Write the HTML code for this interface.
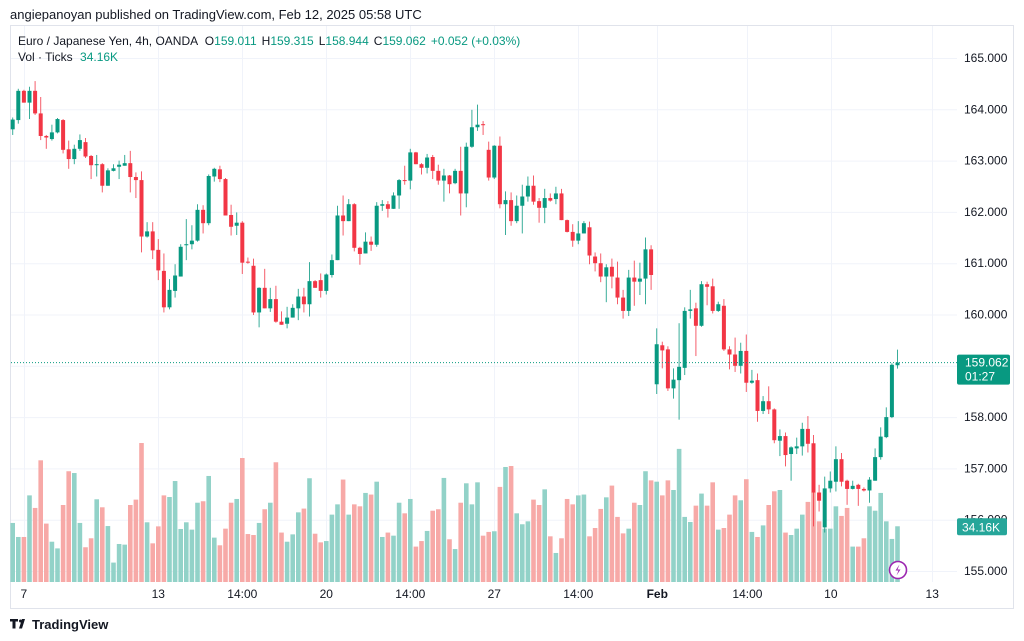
<!DOCTYPE html>
<html><head><meta charset="utf-8">
<style>
html,body{margin:0;padding:0;background:#fff;width:1024px;height:641px;overflow:hidden;font-family:"Liberation Sans",sans-serif;}
svg{display:block}
</style></head>
<body>
<svg id="chart" width="1024" height="641" viewBox="0 0 1024 641" xmlns="http://www.w3.org/2000/svg" font-family="Liberation Sans, sans-serif">
<rect x="0" y="0" width="1024" height="641" fill="#ffffff"/>
<text x="10" y="19" font-size="13" fill="#131722">angiepanoyan published on TradingView.com, Feb 12, 2025 05:58 UTC</text>
<rect x="10.5" y="25.5" width="1003" height="583" fill="none" stroke="#e0e3eb"/>
<g id="grid"></g>
<g id="vols"></g>
<g id="candles"></g>
<g id="axes"></g>
<g font-size="12">
<text x="18" y="45" fill="#131722">Euro / Japanese Yen, 4h, OANDA <tspan dx="4">O</tspan><tspan fill="#089981">159.011</tspan><tspan dx="5">H</tspan><tspan fill="#089981">159.315</tspan><tspan dx="5">L</tspan><tspan fill="#089981">158.944</tspan><tspan dx="5">C</tspan><tspan fill="#089981">159.062</tspan><tspan dx="5" fill="#089981">+0.052 (+0.03%)</tspan></text>
<text x="18" y="61" fill="#131722">Vol · Ticks <tspan dx="4" fill="#089981">34.16K</tspan></text>
</g>
<g>
<circle cx="898" cy="570" r="8.5" fill="#fff" stroke="#9c27b0" stroke-width="1.6"/>
<path d="M899.5 564.5 L895.5 570.5 L898.5 570.5 L896.5 575.5 L900.5 569.5 L897.5 569.5 Z" fill="#9c27b0"/>
</g>
<g>
<path d="M10 619 h8 v2.5 h-2.5 v7 h-3 v-7 h-2.5 Z M19 628.5 L22 619 h3 L22 628.5 Z" fill="#131722"/>
<circle cx="20.5" cy="621" r="1.5" fill="#131722"/>
<text x="32" y="629" font-size="13" font-weight="bold" fill="#131722">TradingView</text>
</g>
</svg>
<script>
const opens=[163.61,163.79,164.36,164.13,164.36,163.92,163.48,163.42,163.55,163.79,163.22,163.03,163.23,163.36,163.09,162.92,162.93,162.51,162.80,162.88,162.90,162.95,162.68,162.62,161.52,161.62,161.26,160.85,160.14,160.46,160.74,161.35,161.37,161.44,162.04,161.78,162.69,162.83,162.64,161.94,161.73,161.79,161.03,160.95,160.04,160.52,160.12,160.30,159.86,159.82,159.94,160.12,160.35,160.20,160.65,160.67,160.46,160.77,161.06,161.93,161.82,162.15,161.30,161.19,161.42,161.36,162.12,162.15,162.06,162.32,162.62,162.61,163.16,162.93,162.86,163.07,162.80,162.61,162.71,162.56,162.80,162.36,163.27,163.65,163.71,163.21,162.67,163.29,162.15,162.23,161.82,162.12,162.30,162.51,162.21,162.08,162.27,162.25,162.36,161.84,161.61,161.44,161.58,161.70,161.13,161.00,160.74,160.93,160.72,160.33,160.07,160.72,160.64,160.70,161.27,158.64,159.40,159.32,158.56,158.72,158.96,160.07,160.12,159.78,160.59,160.55,160.07,160.17,159.32,159.22,159.00,159.29,158.67,158.72,158.12,158.31,158.15,157.54,157.63,157.28,157.39,157.43,157.77,157.49,156.53,155.85,156.61,156.74,157.18,156.76,156.60,156.68,156.60,156.57,156.76,157.22,157.61,158.00,159.011];
const highs=[163.84,164.40,164.38,164.44,164.55,164.24,163.50,163.70,163.83,163.81,163.39,163.31,163.51,163.44,163.11,163.11,162.95,162.85,162.93,163.00,163.11,163.19,162.77,162.79,161.80,161.80,161.47,161.19,160.69,160.98,161.37,161.86,161.74,162.15,162.13,162.73,162.86,162.90,162.66,162.14,161.99,161.82,161.11,161.09,160.53,160.89,160.52,160.56,160.06,160.15,160.20,160.50,160.52,161.02,160.67,160.80,160.80,161.17,162.12,162.32,162.25,162.17,161.32,161.60,161.52,162.19,162.23,162.21,162.38,162.64,162.90,163.23,163.17,162.95,163.13,163.11,162.92,162.84,162.72,162.84,163.27,163.35,163.99,164.09,163.77,163.37,163.30,163.47,162.40,162.38,162.32,162.53,162.69,162.71,162.27,162.45,162.36,162.49,162.45,161.85,161.76,161.82,161.82,161.81,161.21,161.19,160.98,161.09,161.03,160.48,160.87,161.05,161.01,161.50,161.35,159.73,159.47,159.38,158.95,159.83,160.14,160.48,160.23,160.65,160.64,160.70,160.25,160.30,159.38,159.55,159.45,159.61,158.92,158.85,158.41,158.60,158.17,157.76,157.70,157.43,157.60,157.89,158.02,157.65,156.68,156.84,156.94,157.43,157.30,156.78,156.76,156.70,156.63,156.83,157.39,157.80,158.19,159.05,159.315];
const lows=[163.50,163.72,164.13,163.81,163.89,163.40,163.23,163.39,163.53,163.14,162.84,162.93,163.19,163.05,162.64,162.69,162.38,162.51,162.79,162.64,162.90,162.38,162.27,161.21,161.50,161.08,160.67,160.04,160.10,160.33,160.74,161.06,161.27,161.42,161.58,161.74,162.59,162.58,161.93,161.54,161.55,160.79,160.99,159.99,159.75,160.12,160.05,159.84,159.80,159.73,159.94,159.89,160.04,159.96,160.52,160.33,160.39,160.72,161.06,161.54,161.82,161.23,160.97,161.19,161.24,161.32,162.02,161.89,162.06,162.06,162.53,162.44,162.93,162.73,162.75,162.64,162.53,162.20,162.36,162.54,161.93,162.09,163.25,163.58,163.50,162.61,162.64,162.07,161.55,161.73,161.78,161.58,162.20,162.14,161.79,161.78,162.20,162.15,161.84,161.60,161.32,161.37,161.58,160.98,160.84,160.63,160.24,160.51,160.20,159.92,159.97,160.17,160.38,160.20,160.48,158.45,158.95,158.51,158.36,157.95,158.82,159.92,159.19,159.76,160.18,160.02,160.05,159.29,158.93,158.88,158.85,158.49,158.65,157.91,158.06,158.06,157.49,157.24,157.04,156.76,157.28,157.25,157.31,155.87,156.16,155.75,156.53,156.55,156.65,156.29,156.59,156.27,156.55,156.33,156.76,157.17,157.59,157.98,158.944];
const closes=[163.80,164.36,164.13,164.36,163.92,163.48,163.45,163.55,163.81,163.21,163.03,163.23,163.40,163.08,162.91,162.93,162.51,162.81,162.85,162.92,162.95,162.68,162.62,161.52,161.62,161.25,160.86,160.14,160.48,160.76,161.32,161.37,161.44,162.04,161.78,162.70,162.84,162.64,161.93,161.71,161.79,161.01,161.01,160.04,160.52,160.12,160.30,159.86,159.80,159.94,160.13,160.35,160.20,160.65,160.52,160.46,160.78,161.06,161.93,161.82,162.15,161.30,161.18,161.42,161.36,162.12,162.15,162.06,162.32,162.62,162.61,163.16,162.93,162.86,163.06,162.80,162.61,162.71,162.54,162.80,162.36,163.27,163.65,163.70,163.69,162.67,163.29,162.15,162.23,161.82,162.12,162.30,162.51,162.20,162.08,162.27,162.22,162.36,161.84,161.61,161.44,161.58,161.78,161.15,161.00,160.74,160.92,160.74,160.33,160.07,160.72,160.64,160.70,161.27,160.77,159.42,159.30,158.56,158.73,158.98,160.07,160.10,159.78,160.59,160.54,160.07,160.20,159.32,159.22,159.00,159.29,158.67,158.71,158.12,158.31,158.15,157.55,157.63,157.26,157.41,157.43,157.77,157.48,156.53,156.37,156.61,156.76,157.18,156.74,156.60,156.66,156.60,156.57,156.78,157.22,157.62,158.00,159.02,159.062];
const volumes=[36.2,27.6,27.6,53.1,45.4,74.6,35.8,24.7,20.6,47.2,67.9,66.8,36.2,21.3,26.8,50.7,45.8,34.3,11.9,23.3,22.9,47.2,50.5,85.2,36.6,23.7,34.1,53.1,52.1,61.9,32.5,36.6,32.1,48.6,49.5,65.0,27.2,22.5,32.7,48.6,50.9,76.0,29.4,28.8,36.2,44.6,48.6,73.4,30.3,24.7,29.2,42.7,45.0,63.6,29.6,24.3,25.1,41.3,47.6,62.8,41.3,47.6,46.4,54.6,53.6,61.5,27.6,30.3,28.4,48.6,42.1,50.9,21.7,25.1,31.3,43.7,44.6,63.8,26.2,20.2,48.6,60.5,47.6,61.1,28.4,30.7,31.1,58.3,70.5,71.1,42.1,35.4,37.2,50.5,47.2,56.8,28.0,17.8,26.8,50.9,47.6,53.1,53.6,28.0,33.1,44.8,51.9,59.1,39.9,29.8,32.7,48.6,47.2,67.9,62.3,61.5,53.1,62.3,56.4,81.6,39.9,36.8,46.8,54.2,46.8,61.1,32.1,33.1,41.3,53.1,50.1,63.0,30.7,27.6,34.7,47.2,55.6,56.4,30.3,28.8,32.7,41.3,49.1,55.0,37.2,32.7,32.7,46.4,40.5,45.4,21.7,21.7,26.8,46.4,43.7,54.6,37.2,26.4,34.16];
const priceTicks=[165,164,163,162,161,160,159,158,157,156,155];
const timeTickIdx=[2,26,41,56,71,86,101,115.1,131.2,146.1,164.2];
const timeTickLabels=["7","13","14:00","20","14:00","27","14:00","Feb","14:00","10","13"];
const lastPrice=159.062;
const lastVolume=34.16;

const NS="http://www.w3.org/2000/svg";
const X0=12.7, STEP=5.6, PY0=58, PTOP=165, PXPER=51.3, VBASE=582, VPX=0.613;
function xOf(i){return X0+i*STEP;}
function yOf(p){return PY0+(PTOP-p)*PXPER;}
function vh(v){return v/VPX;}
function mk(tag,attrs,parent){const e=document.createElementNS(NS,tag);for(const k in attrs)e.setAttribute(k,attrs[k]);parent.appendChild(e);return e;}
const grid=document.getElementById('grid'),vols=document.getElementById('vols'),cg=document.getElementById('candles'),ax=document.getElementById('axes');
priceTicks.forEach(p=>{
  const l=mk('line',{x1:11,x2:957,y1:yOf(p)+0.5,y2:yOf(p)+0.5,stroke:'#f0f3fa','stroke-width':1},grid);
  
  
  const t=mk('text',{x:964,y:yOf(p)+4,'font-size':12,fill:'#131722'},ax);
  t.textContent=p.toFixed(3);
  
  
});
timeTickIdx.forEach((ix,k)=>{
  const x=Math.round(xOf(ix))+0.5;
  const l=mk('line',{x1:x,x2:x,y1:26,y2:582,stroke:'#f0f3fa','stroke-width':1},grid);
  
  
  const t=mk('text',{x:xOf(ix),y:598,'font-size':12,'text-anchor':'middle',fill:'#131722','font-weight':timeTickLabels[k]==='Feb'?'bold':'normal'},ax);
  t.textContent=timeTickLabels[k];
  
  
});
volumes.forEach((v,i)=>{
  const up=closes[i]>=opens[i];
  const h=vh(v);
  const r=mk('rect',{x:xOf(i)-2.3,y:VBASE-h,width:4.6,height:h,fill:up?'#92d2c8':'#f7a9a7'},vols);
  
  
});
opens.forEach((o,i)=>{
  const c=closes[i],up=c>=o,col=up?'#089981':'#f23645';
  const x=xOf(i);
  const w=mk('line',{x1:x,x2:x,y1:yOf(highs[i]),y2:yOf(lows[i]),stroke:col,'stroke-width':1,'stroke-opacity':0.8},cg);
  
  
  const top=yOf(Math.max(o,c)),bot=yOf(Math.min(o,c));
  const b=mk('rect',{x:x-2,y:top,width:4,height:Math.max(1,bot-top),fill:col},cg);
  
  
});
const ly=yOf(lastPrice);
const dl=mk('line',{x1:11,x2:957,y1:ly,y2:ly,stroke:'#089981','stroke-width':1,'stroke-dasharray':'1 2'},ax);


const pb=mk('rect',{x:957,y:ly-8,width:53,height:30,rx:2,fill:'#089981'},ax);


const pt=mk('text',{x:965,y:ly+4,'font-size':12,fill:'#fff'},ax);
pt.textContent=lastPrice.toFixed(3);


const ct=mk('text',{x:965,y:ly+18,'font-size':12,fill:'#fff'},ax);
ct.textContent='01:27';


const vy=VBASE-vh(lastVolume);
const vb=mk('rect',{x:957,y:vy-8,width:50,height:17,rx:2,fill:'#26a69a'},ax);


const vt=mk('text',{x:962,y:vy+5,'font-size':12,fill:'#fff'},ax);
vt.textContent=lastVolume.toFixed(2)+'K';


</script>
</body></html>
